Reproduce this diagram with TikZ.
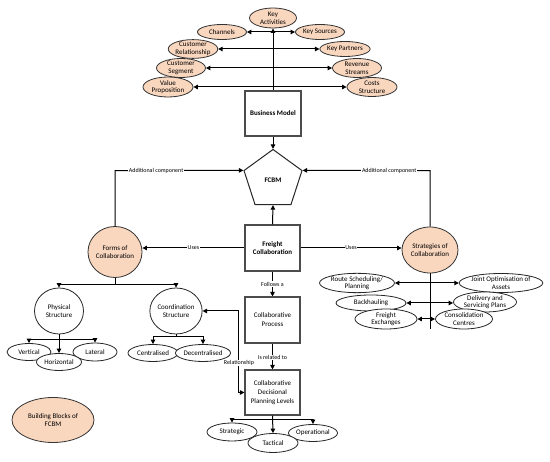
\documentclass[tikz,border=0pt]{standalone}
\usepackage{fontspec}
\setmainfont{Carlito}
\usetikzlibrary{shapes.geometric,arrows.meta}
\definecolor{peach}{RGB}{249,214,190}
\tikzset{
  every node/.style={font=\fontsize{7}{7.6}\selectfont, align=center, inner sep=0pt},
  ell/.style={ellipse, draw=black!85, line width=0.8pt, fill=white},
  pell/.style={ellipse, draw=black!80, line width=0.8pt, fill=peach},
  box/.style={rectangle, draw=black!70, line width=1.1pt, fill=white},
  arr/.style={line width=1pt, -{Triangle[length=4.5pt,width=4.5pt]}},
  darr/.style={line width=1pt, {Triangle[length=4.5pt,width=4.5pt]}-{Triangle[length=4.5pt,width=4.5pt]}},
  ln/.style={line width=1pt},
  lbl/.style={fill=white, font=\fontsize{6}{6.5}\selectfont, inner sep=0.6pt}
}
\begin{document}
\begin{tikzpicture}[x=1pt,y=-1pt]
\useasboundingbox (0,0) rectangle (550,462);
% top ellipses
\node[pell, minimum width=47, minimum height=20] (ka) at (273,18) {Key\\Activities};
\node[pell, minimum width=49, minimum height=15] (ch) at (222,32) {Channels};
\node[pell, minimum width=49, minimum height=15] (ks) at (320,32) {Key Sources};
\node[pell, minimum width=49, minimum height=17] (cr) at (193,49) {Customer\\Relationship};
\node[pell, minimum width=49, minimum height=15] (kp) at (345,49) {Key Partners};
\node[pell, minimum width=49, minimum height=19] (cs) at (181,68) {Customer\\Segment};
\node[pell, minimum width=49, minimum height=19] (rs) at (357,68) {Revenue\\Streams};
\node[pell, minimum width=50, minimum height=20] (vp) at (168,87) {Value\\Proposition};
\node[pell, minimum width=50, minimum height=19] (cst) at (372,87) {Costs\\Structure};
% boxes
\node[box, minimum width=56, minimum height=45, font=\fontsize{7}{7.6}\selectfont\bfseries] (bm) at (273,113.5) {Business Model};
\node[regular polygon, regular polygon sides=5, minimum size=61, draw=black!85, line width=1pt, fill=white, font=\fontsize{7}{7.6}\selectfont\bfseries] (fcbm) at (273,180) {FCBM};
\node[box, minimum width=55, minimum height=46, font=\fontsize{7}{8.2}\selectfont\bfseries] (fc) at (272.5,248) {Freight\\Collaboration};
\node[box, minimum width=55, minimum height=46, font=\fontsize{7}{9}\selectfont] (cp) at (272.5,320) {Collaborative\\Process};
\node[box, minimum width=55, minimum height=45, font=\fontsize{7}{9}\selectfont] (cd) at (272.5,392.5) {Collaborative\\Decisional\\Planning Levels};
% top connectors
\draw[arr] (bm.north) -- (ka.south);
\draw[darr] (ch.east) -- (ks.west);
\draw[darr] (cr.east) -- (kp.west);
\draw[darr] (cs.east) -- (rs.west);
\draw[darr] (vp.east) -- (cst.west);
\draw[arr] (bm.south) -- (fcbm.corner 1);
% main ellipses
\node[pell, minimum width=54, minimum height=51] (fo) at (115,252) {Forms of\\Collaboration};
\node[pell, minimum width=56, minimum height=46] (st) at (430,250) {Strategies of\\Collaboration};
\coordinate (la) at (115,170.6);
\coordinate (ra) at (430,170.6);
\draw[arr] (fo.north) -- (la) -- node[lbl, pos=0.32] {Additional component} (fcbm.corner 2);
\draw[arr] (st.north) -- (ra) -- node[lbl, pos=0.32] {Additional component} (fcbm.corner 5);
\draw[arr] (fc.north) -- (fcbm.south);
\draw[arr] (fc.west |- 0,248) -- node[lbl, pos=0.5] {Uses} (fo.east |- 0,248);
\draw[arr] (fc.east |- 0,248) -- node[lbl, pos=0.5] {Uses} (st.west |- 0,248);
\draw[arr] (fc.south) -- node[lbl, pos=0.5] {Follows a} (cp.north);
\draw[arr] (cp.south) -- node[lbl, pos=0.55] {Is related to} (cd.north);
% left structures
\node[ell, minimum width=49, minimum height=46] (ph) at (59,311) {Physical\\Structure};
\node[ell, minimum width=50, minimum height=46] (co) at (176,311) {Coordination\\Structure};
\coordinate (fj) at (115,285);
\draw[ln] (fo.south) -- (fj);
\draw[arr] (fj) -| (ph.north);
\draw[arr] (fj) -| (co.north);
\node[ell, minimum width=44, minimum height=17] (ve) at (29,352) {Vertical};
\node[ell, minimum width=44, minimum height=18] (la2) at (95,352) {Lateral};
\node[ell, minimum width=45, minimum height=17] (ho) at (59,362) {Horizontal};
\coordinate (pj) at (59,340);
\draw[arr] (ph.south) -- (ho.north);
\draw[arr] (pj) -| (ve.north);
\draw[arr] (pj) -| (la2.north);
\node[ell, minimum width=50, minimum height=17] (ce) at (153,353) {Centralised};
\node[ell, minimum width=54, minimum height=17] (de) at (203,353) {Decentralised};
\coordinate (cj) at (176,337);
\draw[ln] (co.south) -- (cj);
\draw[arr] (cj) -| (ce.north);
\draw[arr] (cj) -| (de.north);
\coordinate (rl) at (238,311);
\draw[darr] (co.east) -- (rl) |- (cd.west);
\node[lbl] at (239,363) {Relationship};
% right strategies
\node[ell, minimum width=75, minimum height=19] (ro) at (357,283) {Route Scheduling/\\Planning};
\node[ell, minimum width=70, minimum height=19] (jo) at (501,283) {Joint Optimisation of\\Assets};
\node[ell, minimum width=70, minimum height=16] (ba) at (371,303) {Backhauling};
\node[ell, minimum width=63, minimum height=20] (dl) at (485,302) {Delivery and\\Servicing Plans};
\node[ell, minimum width=62, minimum height=20] (fe) at (386,319) {Freight\\Exchanges};
\node[ell, minimum width=57, minimum height=20] (cc) at (464,319) {Consolidation\\Centres};
\coordinate (sb) at (430,329);
\draw[ln] (st.south) -- (sb);
\draw[darr] (ro.east) -- (jo.west);
\draw[darr] (ba.east) -- (dl.west |- ba.east);
\draw[darr] (fe.east) -- (cc.west);
% bottom levels
\node[ell, minimum width=50, minimum height=18] (sg) at (232,432) {Strategic};
\node[ell, minimum width=49, minimum height=17] (op) at (313,433) {Operational};
\node[ell, minimum width=50, minimum height=19] (ta) at (273,443) {Tactical};
\coordinate (bj) at (272.5,420);
\draw[arr] (cd.south) -- (ta.north);
\draw[arr] (bj) -| (sg.north);
\draw[arr] (bj) -| (op.north);
% legend
\node[pell, minimum width=82, minimum height=45] (bb) at (53,420) {Building Blocks of\\FCBM};
\end{tikzpicture}
\end{document}
